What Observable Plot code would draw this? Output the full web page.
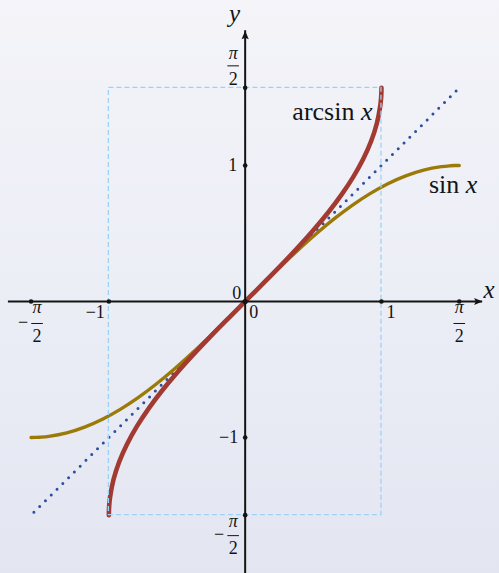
<!DOCTYPE html>
<html>
<head>
<meta charset="utf-8">
<script src="https://cdn.jsdelivr.net/npm/d3@7"></script>
<script src="https://cdn.jsdelivr.net/npm/@observablehq/plot@0.6"></script>
<style>
  html, body { margin: 0; padding: 0; }
  body {
    width: 499px; height: 573px; overflow: hidden;
    background: linear-gradient(to bottom, #f4f4f9 0%, #eceef6 50%, #e3e6f1 100%);
  }
  #chart svg { display: block; background: transparent; }
</style>
</head>
<body>
<div id="chart"></div>
<script>
// Sample angles t (radians) from −π/2 to π/2 and their sines.
// sin x is drawn through (t, sin t); arcsin x is its mirror (sin t, t).
const angles = [-1.5708, -1.5381, -1.5053, -1.4399, -1.3090, -1.1781, -1.0472, -0.9163, -0.7854,
  -0.6545, -0.5236, -0.3927, -0.2618, -0.1309, 0, 0.1309, 0.2618, 0.3927, 0.5236,
  0.6545, 0.7854, 0.9163, 1.0472, 1.1781, 1.3090, 1.4399, 1.5053, 1.5381, 1.5708];
const sines = [-1, -0.99946, -0.99786, -0.99144, -0.96593, -0.92388, -0.86603, -0.79335, -0.70711,
  -0.60876, -0.5, -0.38268, -0.25882, -0.13053, 0, 0.13053, 0.25882, 0.38268, 0.5,
  0.60876, 0.70711, 0.79335, 0.86603, 0.92388, 0.96593, 0.99144, 0.99786, 0.99946, 1];

// The diagonal y = x
const diagonal = [-1.55, 1.55];

// Axis extents and ticks
const xAxisExtent = [-1.737, 1.742];
const yAxisExtent = [-2.0, 1.99];
const halfPi = Math.PI / 2;
const xTickValues = [-halfPi, -1, 1, halfPi];
const yTickValues = [-halfPi, -1, 1, halfPi];

const sinCurve = angles.map((t, i) => ({x: t, y: sines[i]}));
const arcsinCurve = angles.map((t, i) => ({x: sines[i], y: t}));
const diagLine = diagonal.map(v => ({x: v, y: v}));

const ink = "#141414";
const serif = "Liberation Serif, Times New Roman, serif";
const tickSize = 18;

// Filled LaTeX-style arrowhead, tip at the origin, pointing up
const arrowHead = {
  draw(ctx) {
    ctx.moveTo(0, 0);
    ctx.lineTo(3.6, 8.5);
    ctx.lineTo(0, 6.8);
    ctx.lineTo(-3.6, 8.5);
    ctx.closePath();
  }
};
// Horizontal fraction bar
const fracBar = { draw(ctx) { ctx.moveTo(-5.8, 0); ctx.lineTo(5.8, 0); } };

// A stacked π/2 label with optional leading minus, offset from a point
function piOver2(x, y, {dx, piDy, barDy, twoDy, minusDx = null}) {
  const at = [{x, y}];
  const marks = [
    Plot.text(at, {x: "x", y: "y", text: () => "π", dx, dy: piDy, fontSize: tickSize, fontStyle: "italic", fontFamily: serif, fill: ink}),
    Plot.dot(at, {x: "x", y: "y", symbol: fracBar, dx, dy: barDy, fill: "none", stroke: ink, strokeWidth: 1}),
    Plot.text(at, {x: "x", y: "y", text: () => "2", dx, dy: twoDy, fontSize: tickSize, fontFamily: serif, fill: ink})
  ];
  if (minusDx !== null) {
    marks.push(Plot.text(at, {x: "x", y: "y", text: () => "−", dx: minusDx, dy: barDy - 1, fontSize: tickSize, fontFamily: serif, fill: ink}));
  }
  return marks;
}

const sinEnd = sinCurve[sinCurve.length - 1];
const arcsinEnd = arcsinCurve[arcsinCurve.length - 1];

const chart = Plot.plot({
  width: 499,
  height: 573,
  margin: 0,
  x: {domain: [-1.795, 1.866], axis: null},
  y: {domain: [-2.0, 2.213], axis: null},
  style: {background: "transparent", overflow: "visible"},
  marks: [
    // y = x, dotted
    Plot.line(diagLine, {x: "x", y: "y", stroke: "#2d4f9f", strokeWidth: 3, strokeDasharray: "0 8.17", strokeLinecap: "round"}),
    // sin x
    Plot.line(sinCurve, {x: "x", y: "y", curve: "catmull-rom", stroke: "#9b7a08", strokeWidth: 3.4, strokeLinecap: "round"}),
    // arcsin x
    Plot.line(arcsinCurve, {x: "x", y: "y", curve: "catmull-rom", stroke: "#a23a32", strokeWidth: 4.6, strokeLinecap: "round", strokeLinejoin: "round"}),
    // Dashed box [−1, 1] × [−π/2, π/2]
    Plot.rect([{}], {
      x1: () => d3.min(sines), x2: () => d3.max(sines),
      y1: () => d3.min(angles), y2: () => d3.max(angles),
      fill: "none", stroke: "#9dd2f6", strokeWidth: 1.3, strokeDasharray: "5 3"
    }),
    // Axes
    Plot.ruleY([0], {x1: xAxisExtent[0], x2: xAxisExtent[1], stroke: ink, strokeWidth: 2}),
    Plot.ruleX([0], {y1: yAxisExtent[0], y2: yAxisExtent[1], stroke: ink, strokeWidth: 2}),
    Plot.dot([{x: xAxisExtent[1], y: 0}], {x: "x", y: "y", symbol: arrowHead, rotate: 90, fill: ink, stroke: "none"}),
    Plot.dot([{x: 0, y: yAxisExtent[1]}], {x: "x", y: "y", symbol: arrowHead, rotate: 0, fill: ink, stroke: "none"}),
    // Tick dots
    Plot.dot(xTickValues, {x: d => d, y: () => 0, r: 2.3, fill: ink, stroke: "none"}),
    Plot.dot(yTickValues, {x: () => 0, y: d => d, r: 2.3, fill: ink, stroke: "none"}),
    Plot.dot([0], {x: d => d, y: d => d, r: 2.6, fill: ink, stroke: "none"}),
    // Integer tick labels
    Plot.text([-1], {x: d => d, y: () => 0, text: () => "−1", textAnchor: "end", dx: -4, dy: 10.5, fontSize: tickSize, fontFamily: serif, fill: ink}),
    Plot.text([1], {x: d => d, y: () => 0, text: () => "1", textAnchor: "start", dx: 5, dy: 10.5, fontSize: tickSize, fontFamily: serif, fill: ink}),
    Plot.text([1], {x: () => 0, y: d => d, text: () => "1", textAnchor: "end", dx: -8, dy: 0, fontSize: tickSize, fontFamily: serif, fill: ink}),
    Plot.text([-1], {x: () => 0, y: d => d, text: () => "−1", textAnchor: "end", dx: -7, dy: 0, fontSize: tickSize, fontFamily: serif, fill: ink}),
    Plot.text([0], {x: d => d, y: d => d, text: () => "0", textAnchor: "end", dx: -4, dy: -8.5, fontSize: tickSize, fontFamily: serif, fill: ink}),
    Plot.text([0], {x: d => d, y: d => d, text: () => "0", textAnchor: "start", dx: 4, dy: 10.5, fontSize: tickSize, fontFamily: serif, fill: ink}),
    // Fraction tick labels
    ...piOver2(halfPi, 0, {dx: 0, piDy: 5.5, barDy: 22, twoDy: 35}),
    ...piOver2(-halfPi, 0, {dx: 6, piDy: 5.5, barDy: 22, twoDy: 35, minusDx: -8}),
    ...piOver2(0, halfPi, {dx: -12, piDy: -35, barDy: -22, twoDy: -8.5}),
    ...piOver2(0, -halfPi, {dx: -12, piDy: 6.5, barDy: 20.5, twoDy: 33, minusDx: -26}),
    // Axis names
    Plot.text([{x: xAxisExtent[1], y: 0}], {x: "x", y: "y", text: () => "x", textAnchor: "start", dx: 1, dy: -11.7, fontSize: 25, fontStyle: "italic", fontFamily: serif, fill: ink}),
    Plot.text([{x: 0, y: yAxisExtent[1]}], {x: "x", y: "y", text: () => "y", textAnchor: "middle", dx: -10.7, dy: -17, fontSize: 25, fontStyle: "italic", fontFamily: serif, fill: ink}),
    // Curve names
    Plot.text([arcsinEnd], {x: "x", y: "y", text: () => "arcsin", textAnchor: "end", dx: -27, dy: 24.3, fontSize: 26, fontFamily: serif, fill: ink}),
    Plot.text([arcsinEnd], {x: "x", y: "y", text: () => "x", textAnchor: "end", dx: -9, dy: 24.3, fontSize: 26, fontStyle: "italic", fontFamily: serif, fill: ink}),
    Plot.text([sinEnd], {x: "x", y: "y", text: () => "sin", textAnchor: "end", dx: 0, dy: 18.7, fontSize: 26, fontFamily: serif, fill: ink}),
    Plot.text([sinEnd], {x: "x", y: "y", text: () => "x", textAnchor: "end", dx: 18, dy: 18.7, fontSize: 26, fontStyle: "italic", fontFamily: serif, fill: ink})
  ]
});
document.getElementById("chart").appendChild(chart);
</script>
</body>
</html>
